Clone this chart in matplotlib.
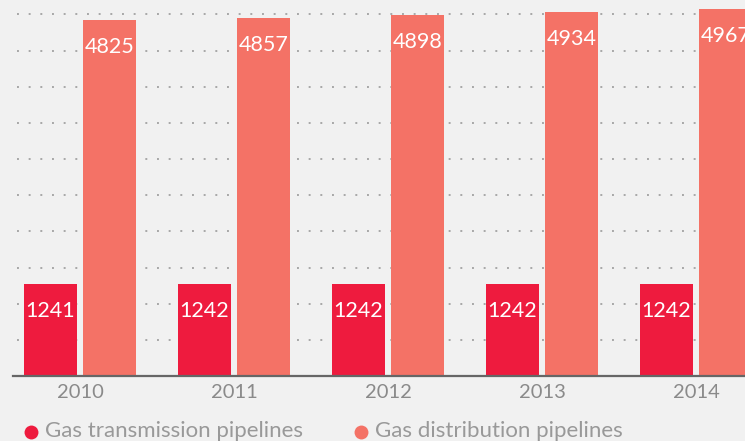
import matplotlib
matplotlib.use("Agg")
import matplotlib.pyplot as plt
import numpy as np
from matplotlib.lines import Line2D

years = ["2010", "2011", "2012", "2013", "2014"]
series_names = ["Gas transmission pipelines", "Gas distribution pipelines"]
transmission = [1241, 1242, 1242, 1242, 1242]
distribution = [4825, 4857, 4898, 4934, 4967]
colors = ["#ee1b3e", "#f47266"]

BG = "#f1f1f1"
plt.rcParams["font.family"] = ["Lato", "DejaVu Sans"]

W, H = 745, 441
fig = plt.figure(figsize=(W / 100, H / 100), dpi=100, facecolor=BG)

# axes: left edge at 13px, baseline at 376px from top, extends to top of figure
base_px = 376
ax = fig.add_axes([13 / W, (H - base_px) / H, (W - 13) / W, base_px / H])
ax.set_facecolor(BG)

units_per_px = 13.55
ymax = base_px * units_per_px
ax.set_ylim(0, ymax)
group_px = 154.0
x0_px = 80.0
ax.set_xlim((13 - x0_px) / group_px, (W - x0_px) / group_px)

x = np.arange(len(years))
bw = 53 / group_px
off = 29.5 / group_px

# dotted gridlines
for g in np.arange(1, 11) * 490:
    ax.axhline(g, xmin=(17 - 13) / (W - 13), xmax=1, color="#a8a8a8",
               lw=1.4, linestyle=(0, (1, 5)), zorder=0)

b1 = ax.bar(x - off, transmission, width=bw, color=colors[0], zorder=2)
b2 = ax.bar(x + off, distribution, width=bw, color=colors[1], zorder=2)

lab_off = 27 * units_per_px
for bars, vals in ((b1, transmission), (b2, distribution)):
    for rect, v in zip(bars, vals):
        ax.text(rect.get_x() + rect.get_width() / 2, v - lab_off, str(v),
                ha="center", va="center", color="white", fontsize=15.5, zorder=3)

for s in ["top", "right", "left"]:
    ax.spines[s].set_visible(False)
ax.spines["bottom"].set_color("#666666")
ax.spines["bottom"].set_linewidth(1.6)
ax.set_yticks([])
ax.set_xticks(x)
ax.set_xticklabels(years, fontsize=14.5, color="#8a8a8a")
ax.tick_params(axis="x", length=0, pad=6)

# legend drawn manually in figure pixel coords
leg_y = (H - 431) / H
for (cx, tx), name, c in zip(((31, 45), (361, 375)), series_names, colors):
    fig.add_artist(Line2D([cx / W], [leg_y - 1 / H], marker="o", markersize=10,
                          color=c, markeredgewidth=0, linestyle="none",
                          transform=fig.transFigure))
    fig.text(tx / W, leg_y, name, ha="left", va="center", fontsize=16,
             color="#999999")

fig.savefig("out.png", dpi=100, facecolor=BG)
